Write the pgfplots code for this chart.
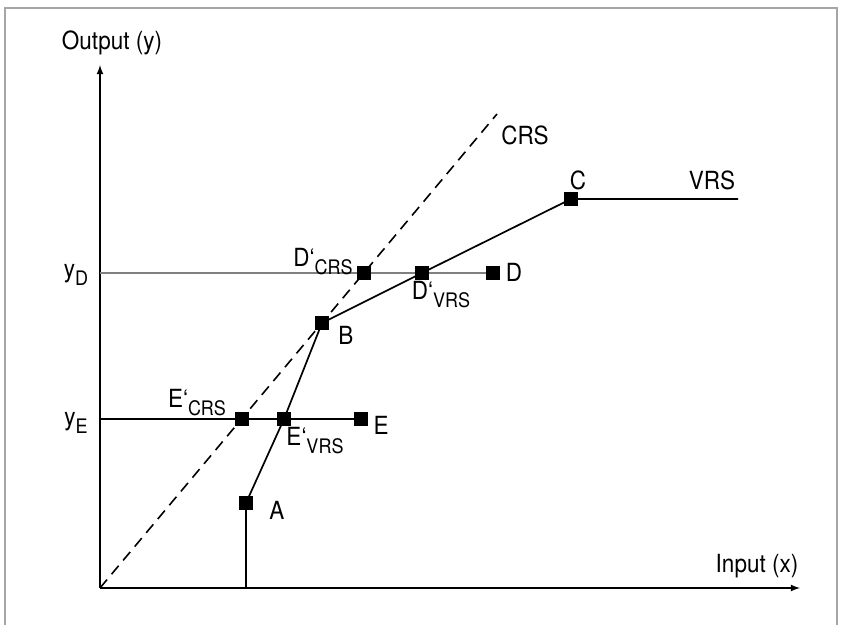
\documentclass[border=0pt]{standalone}
\usepackage{fontspec}
\setmainfont[FakeStretch=0.9]{TeX Gyre Heros}
\usepackage{pgfplots}
\pgfplotsset{compat=1.18}
\newcommand{\sub}[1]{\raisebox{-0.6ex}{\fontsize{10}{11}\selectfont #1}}

\begin{document}
\begin{tikzpicture}[lbl/.style={font=\fontsize{12.5}{14}\selectfont, inner sep=1pt}]
\begin{axis}[
  x=0.5pt, y=0.5pt,
  xmin=0, xmax=700, ymin=0, ymax=523,
  axis lines=left,
  axis line style={line width=0.6pt, -latex},
  ticks=none,
  clip=false,
]
% frame round the figure
\draw[gray!70, line width=0.6pt] (axis cs:-95,-60) rectangle (axis cs:737,580);
\coordinate (bl) at (axis cs:-100,-37);
\coordinate (tr) at (axis cs:745,588);

% reference levels y_E and y_D
\addplot[black, line width=0.7pt] coordinates {(0,169) (261,169)};
\addplot[gray, line width=0.9pt] coordinates {(0,315) (393,315)};

% CRS frontier
\addplot[black, line width=0.8pt, dash pattern=on 5.5pt off 3.5pt] coordinates {(0,0) (397,474)};

% VRS frontier
\addplot[black, line width=0.85pt] coordinates {
  (146,0) (146,85) (184,169) (222,265) (322,315) (471,389) (638,389)};

% observed and projected units
\addplot[only marks, mark=square*, mark size=3.2pt, black] coordinates {
  (146,85) (142,169) (184,169) (261,169) (222,265)
  (264,315) (322,315) (393,315) (471,389)};

\node[lbl] at (axis cs:12,545) {Output (y)};
\node[lbl] at (axis cs:657,22) {Input (x)};
\node[lbl] at (axis cs:-24,313) {y\sub{D}};
\node[lbl] at (axis cs:-24,165) {y\sub{E}};
\node[lbl] at (axis cs:425,453) {CRS};
\node[lbl] at (axis cs:478,408) {C};
\node[lbl] at (axis cs:612,408) {VRS};
\node[lbl] at (axis cs:223,326) {D‘\sub{CRS}};
\node[lbl] at (axis cs:341,293) {D‘\sub{VRS}};
\node[lbl] at (axis cs:414,316) {D};
\node[lbl] at (axis cs:246,253) {B};
\node[lbl] at (axis cs:97,185) {E‘\sub{CRS}};
\node[lbl] at (axis cs:215,147) {E‘\sub{VRS}};
\node[lbl] at (axis cs:281,163) {E};
\node[lbl] at (axis cs:177,78) {A};
\end{axis}
\pgfresetboundingbox
\useasboundingbox (bl) rectangle (tr);
\end{tikzpicture}
\end{document}
